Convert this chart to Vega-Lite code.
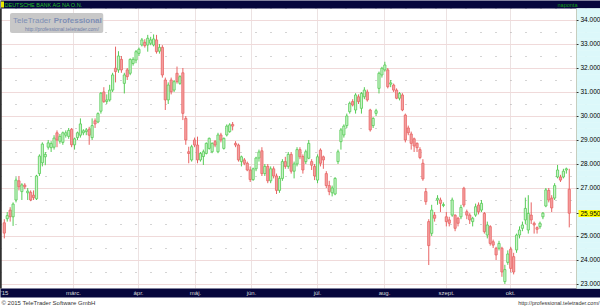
{
"$schema": "https://vega.github.io/schema/vega-lite/v6.json",
"width": 600, "height": 280,
"autosize": "none",
"padding": {"left": 0, "top": 8, "right": 0, "bottom": 18},
"background": "#ffffff",
"config": {"view": {"stroke": null}, "font": "Liberation Sans", "axis": {"titleFontWeight": "normal"}},
"data": {"values": [
{"i":0,"o":25.55,"h":25.7,"l":24.9,"c":25.12},
{"i":1,"o":25.72,"h":26.0,"l":25.6,"c":25.85},
{"i":2,"o":26.08,"h":26.2,"l":25.6,"c":25.8},
{"i":3,"o":25.8,"h":26.4,"l":25.42,"c":26.33},
{"i":4,"o":26.5,"h":27.45,"l":26.4,"c":27.33},
{"i":5,"o":27.3,"h":27.5,"l":26.9,"c":27.05},
{"i":6,"o":26.85,"h":27.2,"l":26.5,"c":27.13},
{"i":7,"o":27.12,"h":27.2,"l":26.95,"c":27.05},
{"i":8,"o":26.8,"h":27.0,"l":26.5,"c":26.87},
{"i":9,"o":26.82,"h":26.9,"l":26.45,"c":26.5},
{"i":10,"o":26.7,"h":26.9,"l":26.5,"c":26.6},
{"i":11,"o":26.55,"h":27.55,"l":26.5,"c":27.5},
{"i":12,"o":27.6,"h":28.4,"l":27.5,"c":28.33},
{"i":13,"o":28.05,"h":28.9,"l":27.9,"c":28.83},
{"i":14,"o":28.3,"h":28.5,"l":27.95,"c":28.4},
{"i":15,"o":28.7,"h":29.0,"l":28.6,"c":28.88},
{"i":16,"o":28.68,"h":28.95,"l":28.5,"c":28.85},
{"i":17,"o":28.7,"h":29.2,"l":28.6,"c":29.08},
{"i":18,"o":29.3,"h":29.4,"l":28.7,"c":29.0},
{"i":19,"o":28.95,"h":29.25,"l":28.85,"c":29.15},
{"i":20,"o":28.9,"h":29.35,"l":28.8,"c":29.3},
{"i":21,"o":29.2,"h":29.4,"l":29.1,"c":29.3},
{"i":22,"o":29.15,"h":29.5,"l":29.05,"c":29.4},
{"i":23,"o":29.45,"h":29.5,"l":28.7,"c":28.8},
{"i":24,"o":28.8,"h":29.1,"l":28.6,"c":29.05},
{"i":25,"o":29.1,"h":29.35,"l":29.0,"c":29.3},
{"i":26,"o":29.2,"h":29.9,"l":29.1,"c":29.67},
{"i":27,"o":29.3,"h":29.45,"l":29.2,"c":29.38},
{"i":28,"o":29.35,"h":29.5,"l":29.2,"c":29.42},
{"i":29,"o":29.45,"h":29.55,"l":28.8,"c":29.2},
{"i":30,"o":29.1,"h":29.9,"l":29.0,"c":29.6},
{"i":31,"o":29.8,"h":29.9,"l":29.5,"c":29.67},
{"i":32,"o":29.75,"h":30.15,"l":29.7,"c":30.1},
{"i":33,"o":30.2,"h":31.0,"l":30.1,"c":30.95},
{"i":34,"o":31.0,"h":31.2,"l":30.55,"c":30.6},
{"i":35,"o":30.6,"h":30.9,"l":30.5,"c":30.67},
{"i":36,"o":30.67,"h":31.3,"l":30.6,"c":31.08},
{"i":37,"o":31.08,"h":31.8,"l":31.0,"c":31.71},
{"i":38,"o":31.99,"h":32.89,"l":31.4,"c":31.85},
{"i":39,"o":31.92,"h":32.7,"l":31.8,"c":32.5},
{"i":40,"o":32.36,"h":32.5,"l":31.8,"c":31.92},
{"i":41,"o":31.36,"h":31.8,"l":30.94,"c":31.71},
{"i":42,"o":31.92,"h":32.0,"l":31.5,"c":31.64},
{"i":43,"o":31.78,"h":32.4,"l":31.7,"c":32.36},
{"i":44,"o":32.19,"h":32.45,"l":32.1,"c":32.36},
{"i":45,"o":32.33,"h":32.75,"l":32.2,"c":32.68},
{"i":46,"o":32.61,"h":32.85,"l":32.5,"c":32.78},
{"i":47,"o":32.96,"h":33.25,"l":32.9,"c":33.17},
{"i":48,"o":33.07,"h":33.2,"l":32.85,"c":32.93},
{"i":49,"o":32.96,"h":33.38,"l":32.68,"c":33.24},
{"i":50,"o":33.03,"h":33.3,"l":32.95,"c":33.17},
{"i":51,"o":32.96,"h":33.4,"l":32.9,"c":33.21},
{"i":52,"o":33.17,"h":33.38,"l":32.6,"c":32.68},
{"i":53,"o":32.7,"h":33.0,"l":32.6,"c":32.86},
{"i":54,"o":32.86,"h":32.95,"l":31.6,"c":31.71},
{"i":55,"o":31.5,"h":31.6,"l":30.25,"c":30.67},
{"i":56,"o":30.67,"h":31.4,"l":30.5,"c":31.29},
{"i":57,"o":31.5,"h":31.6,"l":30.9,"c":31.01},
{"i":58,"o":31.08,"h":31.5,"l":31.0,"c":31.43},
{"i":59,"o":31.78,"h":32.06,"l":31.35,"c":31.43},
{"i":60,"o":31.36,"h":31.7,"l":31.3,"c":31.64},
{"i":61,"o":31.8,"h":32.0,"l":29.83,"c":30.11},
{"i":62,"o":29.9,"h":30.0,"l":28.8,"c":29.0},
{"i":63,"o":28.51,"h":28.72,"l":28.03,"c":28.44},
{"i":64,"o":28.17,"h":28.8,"l":28.1,"c":28.72},
{"i":65,"o":29.0,"h":29.1,"l":28.7,"c":28.79},
{"i":66,"o":28.79,"h":29.14,"l":28.03,"c":28.17},
{"i":67,"o":28.17,"h":28.5,"l":28.1,"c":28.44},
{"i":68,"o":28.31,"h":28.6,"l":27.96,"c":28.51},
{"i":69,"o":28.44,"h":28.9,"l":28.4,"c":28.86},
{"i":70,"o":28.65,"h":29.1,"l":28.6,"c":29.07},
{"i":71,"o":28.51,"h":28.9,"l":28.45,"c":28.86},
{"i":72,"o":28.93,"h":29.0,"l":28.7,"c":28.79},
{"i":73,"o":28.51,"h":29.3,"l":28.45,"c":29.21},
{"i":74,"o":29.21,"h":29.3,"l":28.9,"c":29.0},
{"i":75,"o":28.65,"h":29.1,"l":28.6,"c":29.07},
{"i":76,"o":29.21,"h":29.65,"l":29.15,"c":29.58},
{"i":77,"o":29.35,"h":29.7,"l":29.3,"c":29.63},
{"i":78,"o":29.65,"h":29.75,"l":29.4,"c":29.58},
{"i":79,"o":28.86,"h":28.95,"l":28.7,"c":28.79},
{"i":80,"o":28.79,"h":28.85,"l":28.1,"c":28.17},
{"i":81,"o":28.1,"h":28.35,"l":27.9,"c":28.3},
{"i":82,"o":28.17,"h":28.25,"l":27.95,"c":28.03},
{"i":83,"o":28.03,"h":28.1,"l":27.7,"c":27.75},
{"i":84,"o":27.75,"h":27.9,"l":27.25,"c":27.35},
{"i":85,"o":27.35,"h":27.85,"l":27.3,"c":27.8},
{"i":86,"o":27.8,"h":28.3,"l":27.7,"c":28.25},
{"i":87,"o":28.25,"h":28.6,"l":28.1,"c":28.5},
{"i":88,"o":28.55,"h":28.7,"l":27.5,"c":27.6},
{"i":89,"o":27.6,"h":28.0,"l":27.5,"c":27.9},
{"i":90,"o":27.9,"h":28.0,"l":27.2,"c":27.3},
{"i":91,"o":27.3,"h":27.9,"l":27.2,"c":27.8},
{"i":92,"o":27.8,"h":27.9,"l":27.4,"c":27.5},
{"i":93,"o":27.5,"h":27.6,"l":26.75,"c":26.9},
{"i":94,"o":26.9,"h":27.5,"l":26.8,"c":27.4},
{"i":95,"o":27.4,"h":28.2,"l":27.3,"c":28.1},
{"i":96,"o":28.1,"h":28.3,"l":27.8,"c":27.9},
{"i":97,"o":27.9,"h":28.5,"l":27.8,"c":28.4},
{"i":98,"o":28.4,"h":28.5,"l":27.6,"c":27.7},
{"i":99,"o":27.7,"h":28.1,"l":27.4,"c":28.0},
{"i":100,"o":28.0,"h":28.7,"l":27.9,"c":28.6},
{"i":101,"o":28.6,"h":28.7,"l":28.2,"c":28.3},
{"i":102,"o":28.31,"h":28.4,"l":27.6,"c":27.75},
{"i":103,"o":28.1,"h":28.6,"l":28.0,"c":28.51},
{"i":104,"o":28.24,"h":29.0,"l":28.2,"c":28.86},
{"i":105,"o":28.1,"h":28.2,"l":27.75,"c":27.95},
{"i":106,"o":27.9,"h":28.0,"l":27.33,"c":27.5},
{"i":107,"o":27.33,"h":28.4,"l":27.2,"c":28.3},
{"i":108,"o":28.58,"h":28.65,"l":27.9,"c":28.03},
{"i":109,"o":28.3,"h":28.35,"l":27.8,"c":28.17},
{"i":110,"o":27.6,"h":27.7,"l":27.0,"c":27.1},
{"i":111,"o":27.1,"h":27.3,"l":26.7,"c":26.85},
{"i":112,"o":26.8,"h":27.1,"l":26.65,"c":27.0},
{"i":113,"o":26.75,"h":27.45,"l":26.7,"c":27.4},
{"i":114,"o":28.1,"h":28.6,"l":28.0,"c":28.51},
{"i":115,"o":28.93,"h":29.5,"l":28.6,"c":29.42},
{"i":116,"o":29.21,"h":29.65,"l":29.1,"c":29.58},
{"i":117,"o":29.6,"h":30.1,"l":29.5,"c":30.0},
{"i":118,"o":30.18,"h":30.6,"l":30.1,"c":30.53},
{"i":119,"o":30.6,"h":30.7,"l":30.4,"c":30.46},
{"i":120,"o":30.25,"h":30.95,"l":30.1,"c":30.875},
{"i":121,"o":30.8,"h":30.9,"l":30.5,"c":30.6},
{"i":122,"o":30.32,"h":31.0,"l":30.1,"c":30.94},
{"i":123,"o":30.8,"h":31.2,"l":30.7,"c":31.08},
{"i":124,"o":31.0,"h":31.1,"l":30.6,"c":30.67},
{"i":125,"o":30.25,"h":30.3,"l":29.35,"c":29.42},
{"i":126,"o":29.6,"h":29.95,"l":29.5,"c":29.9},
{"i":127,"o":30.11,"h":30.3,"l":30.0,"c":30.22},
{"i":128,"o":31.15,"h":31.85,"l":30.94,"c":31.78},
{"i":129,"o":31.71,"h":32.05,"l":31.6,"c":31.99},
{"i":130,"o":31.92,"h":32.26,"l":31.85,"c":32.125},
{"i":131,"o":31.92,"h":32.0,"l":31.15,"c":31.22},
{"i":132,"o":31.33,"h":31.5,"l":31.2,"c":31.38},
{"i":133,"o":31.29,"h":31.35,"l":31.0,"c":31.08},
{"i":134,"o":31.08,"h":31.15,"l":30.7,"c":30.74},
{"i":135,"o":30.74,"h":31.0,"l":30.65,"c":30.94},
{"i":136,"o":30.875,"h":30.95,"l":30.2,"c":30.25},
{"i":137,"o":30.04,"h":30.1,"l":28.9,"c":29.0},
{"i":138,"o":29.5,"h":29.6,"l":29.2,"c":29.3},
{"i":139,"o":29.25,"h":29.35,"l":28.6,"c":28.86},
{"i":140,"o":29.05,"h":29.1,"l":28.5,"c":28.75},
{"i":141,"o":28.86,"h":28.9,"l":28.5,"c":28.68},
{"i":142,"o":28.6,"h":28.7,"l":28.2,"c":28.27},
{"i":143,"o":28.03,"h":28.2,"l":27.3,"c":27.38},
{"i":144,"o":26.85,"h":27.0,"l":26.3,"c":26.43},
{"i":145,"o":25.6,"h":25.7,"l":23.79,"c":24.6},
{"i":146,"o":25.11,"h":26.3,"l":25.0,"c":26.08},
{"i":147,"o":25.87,"h":26.0,"l":25.6,"c":25.74},
{"i":148,"o":26.5,"h":26.7,"l":26.3,"c":26.57},
{"i":149,"o":26.5,"h":26.6,"l":26.0,"c":26.36},
{"i":150,"o":26.27,"h":26.4,"l":26.2,"c":26.31},
{"i":151,"o":25.8,"h":26.0,"l":25.4,"c":25.6},
{"i":152,"o":25.67,"h":25.8,"l":25.4,"c":25.53},
{"i":153,"o":25.87,"h":26.6,"l":25.8,"c":26.5},
{"i":154,"o":25.87,"h":25.9,"l":25.2,"c":25.32},
{"i":155,"o":25.74,"h":25.8,"l":25.4,"c":25.53},
{"i":156,"o":25.8,"h":26.3,"l":25.7,"c":26.19},
{"i":157,"o":26.99,"h":27.05,"l":26.2,"c":26.29},
{"i":158,"o":26.01,"h":26.1,"l":25.7,"c":25.87},
{"i":159,"o":25.87,"h":25.95,"l":25.5,"c":25.67},
{"i":160,"o":25.6,"h":25.8,"l":25.4,"c":25.74},
{"i":161,"o":25.87,"h":26.35,"l":25.8,"c":26.22},
{"i":162,"o":26.29,"h":26.4,"l":25.9,"c":26.01},
{"i":163,"o":26.08,"h":26.5,"l":26.0,"c":26.36},
{"i":164,"o":25.94,"h":26.0,"l":25.1,"c":25.18},
{"i":165,"o":25.04,"h":25.6,"l":24.9,"c":25.46},
{"i":166,"o":25.39,"h":25.45,"l":24.6,"c":24.69},
{"i":167,"o":24.76,"h":24.85,"l":24.5,"c":24.62},
{"i":168,"o":24.49,"h":24.55,"l":24.0,"c":24.21},
{"i":169,"o":24.49,"h":24.8,"l":24.4,"c":24.69},
{"i":170,"o":24.49,"h":24.55,"l":23.3,"c":23.5},
{"i":171,"o":23.1,"h":23.8,"l":23.0,"c":23.6},
{"i":172,"o":23.9,"h":24.4,"l":23.8,"c":24.25},
{"i":173,"o":24.45,"h":24.55,"l":23.5,"c":23.65},
{"i":174,"o":24.14,"h":24.3,"l":23.4,"c":23.5},
{"i":175,"o":24.42,"h":25.1,"l":24.3,"c":25.04},
{"i":176,"o":25.04,"h":25.4,"l":24.9,"c":25.25},
{"i":177,"o":25.32,"h":25.6,"l":25.2,"c":25.46},
{"i":178,"o":25.67,"h":26.6,"l":25.5,"c":26.15},
{"i":179,"o":25.25,"h":26.7,"l":25.1,"c":25.94},
{"i":180,"o":25.87,"h":26.4,"l":25.5,"c":25.67},
{"i":181,"o":25.53,"h":25.6,"l":25.1,"c":25.46},
{"i":182,"o":25.35,"h":25.4,"l":25.1,"c":25.28},
{"i":183,"o":25.39,"h":25.6,"l":25.3,"c":25.53},
{"i":184,"o":25.8,"h":26.0,"l":25.7,"c":25.95},
{"i":185,"o":26.25,"h":27.0,"l":26.2,"c":26.92},
{"i":186,"o":26.9,"h":27.0,"l":26.4,"c":26.5},
{"i":187,"o":26.58,"h":26.7,"l":26.0,"c":26.17},
{"i":188,"o":26.58,"h":27.2,"l":26.5,"c":27.1},
{"i":189,"o":27.46,"h":27.96,"l":27.4,"c":27.75},
{"i":190,"o":27.46,"h":27.55,"l":27.25,"c":27.33},
{"i":191,"o":27.46,"h":27.8,"l":27.4,"c":27.7},
{"i":192,"o":27.75,"h":27.85,"l":27.6,"c":27.8},
{"i":193,"o":26.95,"h":27.8,"l":25.36,"c":25.95}
]},
"resolve": {"axis": {"x": "independent", "y": "independent"}},
"layer": [
{
 "data": {"values": [{}]},
 "mark": {"type": "rect", "fill": "#c8c8c8", "cornerRadius": 2},
 "encoding": {
  "x": {"datum": 1.95, "type": "quantitative", "scale": {"domain": [-1.47, 203.5], "nice": false, "zero": false, "padding": 0},
   "axis": {"orient": "top", "offset": 4, "domain": true, "domainColor": "#06063c", "domainWidth": 8, "ticks": false, "labels": false, "grid": false, "title": null}},
  "x2": {"datum": 33.8},
  "y": {"datum": 34.29, "type": "quantitative", "scale": {"domain": [22.8333, 34.5], "nice": false, "zero": false, "padding": 0},
   "axis": {"orient": "left", "values": [23, 24, 25, 26, 27, 28, 29, 30, 31, 32, 33, 34], "grid": true, "gridColor": "#f0dada", "gridWidth": 1, "labels": false, "ticks": false,
    "domain": true, "domainColor": "#303030", "domainWidth": 2.5,
    "title": "http://professional.teletrader.com/", "titleX": 599, "titleY": 294, "titleAngle": 0, "titleAlign": "right", "titleBaseline": "middle", "titleFontSize": 5.5, "titleColor": "#333333"}},
  "y2": {"datum": 33.46}
 }
},
{
 "data": {"values": [{}]},
 "mark": {"type": "text", "text": "TeleTrader", "align": "left", "baseline": "middle", "fontSize": 8, "color": "#7f8fb5"},
 "encoding": {
  "x": {"datum": 2.97, "type": "quantitative", "scale": {"domain": [-1.47, 203.5], "nice": false, "zero": false, "padding": 0},
   "axis": {"orient": "bottom", "offset": 4.5, "domain": true, "domainColor": "#06063c", "domainWidth": 9, "ticks": false, "labels": false, "grid": false,
    "title": "© 2015 TeleTrader Software GmbH", "titleX": 1, "titleY": 9.5, "titleAlign": "left", "titleBaseline": "middle", "titleAngle": 0, "titleFontSize": 6, "titleColor": "#333333"}},
  "y": {"datum": 33.96, "type": "quantitative", "scale": {"domain": [22.8333, 34.5], "nice": false, "zero": false, "padding": 0},
   "axis": {"orient": "left", "values": [23.5, 24.5, 25.5, 26.5, 27.5, 28.5, 29.5, 30.5, 31.5, 32.5, 33.5, 34.5], "grid": true, "gridDash": [1, 14], "gridColor": "#a8a8a8", "labels": false, "ticks": false, "domain": false, "title": null}}
 }
},
{
 "data": {"values": [{}]},
 "mark": {"type": "text", "text": "Professional", "align": "left", "baseline": "middle", "fontSize": 8, "fontWeight": "bold", "color": "#7f8fb5"},
 "encoding": {
  "x": {"datum": 16.9, "type": "quantitative", "scale": {"domain": [-1.47, 203.5], "nice": false, "zero": false, "padding": 0}, "axis": null},
  "y": {"datum": 33.96, "type": "quantitative", "scale": {"domain": [22.8333, 34.5], "nice": false, "zero": false, "padding": 0},
   "axis": {"orient": "right", "offset": -24, "tickCount": 400,
    "values": [34.375,34.125,33.875,33.625,33.375,33.125,32.875,32.625,32.375,32.125,31.875,31.625,31.375,31.125,30.875,30.625,30.375,30.125,29.875,29.625,29.375,29.125,28.875,28.625,28.375,28.125,27.875,27.625,27.375,27.125,26.875,26.625,26.375,26.125,25.875,25.625,25.375,25.125,24.875,24.625,24.375,24.125,23.875,23.625,23.375,23.125,22.95],
    "tickSize": 24, "tickWidth": 6.5, "tickColor": "#dcf8fa", "domain": false, "labels": false, "grid": false,
    "title": "naponta", "titleX": -9, "titleY": -4, "titleAngle": 0, "titleAlign": "center", "titleBaseline": "middle", "titleFontSize": 5.5, "titleColor": "#10a010"}}
 }
},
{
 "data": {"values": [{}]},
 "mark": {"type": "text", "text": "http://professional.teletrader.com/", "align": "left", "baseline": "middle", "fontSize": 5, "color": "#7080a8"},
 "encoding": {
  "x": {"datum": 7.07, "type": "quantitative", "scale": {"domain": [-1.47, 203.5], "nice": false, "zero": false, "padding": 0},
   "axis": {"orient": "top", "offset": 1, "values": [-0.94], "tickSize": 6, "tickWidth": 3, "tickColor": "#e8e800", "labels": false, "domain": false, "grid": false, "title": null}},
  "y": {"datum": 33.625, "type": "quantitative", "scale": {"domain": [22.8333, 34.5], "nice": false, "zero": false, "padding": 0},
   "axis": {"orient": "right", "offset": -22, "values": [25.95], "tickSize": 22, "tickWidth": 7, "tickColor": "#ffff00", "labels": false, "domain": false, "grid": false, "title": null}}
 }
},
{
 "mark": {"type": "rule", "strokeWidth": 1},
 "encoding": {
  "x": {"field": "i", "type": "quantitative", "scale": {"domain": [-1.47, 203.5], "nice": false, "zero": false, "padding": 0},
   "axis": {"orient": "bottom", "offset": 4.5, "values": [-1.47, 23.47, 45.68, 65.15, 84.28, 106.83, 129.72, 150.9, 172.77],
    "labelExpr": "datum.value < 0 ? \"'15\" : datum.value < 30 ? 'márc.' : datum.value < 55 ? 'ápr.' : datum.value < 75 ? 'máj.' : datum.value < 95 ? 'jún.' : datum.value < 115 ? 'júl.' : datum.value < 140 ? 'aug.' : datum.value < 160 ? 'szept.' : 'okt.'",
    "labelColor": "#d8d8d8", "labelFontSize": 6, "labelBaseline": "middle", "labelPadding": 0, "labelFlush": true, "labelOverlap": false,
    "ticks": false, "domain": false,
    "grid": true, "gridColor": "#ece2e2", "gridWidth": 1,
    "title": "DEUTSCHE BANK AG NA O.N.", "titleX": 4, "titleY": -288.5, "titleAlign": "left", "titleBaseline": "middle", "titleAngle": 0, "titleFontSize": 5.5, "titleColor": "#22c022"}},
  "y": {"field": "l", "type": "quantitative", "scale": {"domain": [22.8333, 34.5], "nice": false, "zero": false, "padding": 0},
   "axis": {"orient": "right", "offset": -24, "values": [23, 24, 25, 25.95, 27, 28, 29, 30, 31, 32, 33, 34], "format": ".3f", "labelFontSize": 6.5, "labelColor": "#000000", "labelPadding": 2, "labelOverlap": false, "labelBound": false,
    "tickSize": 2, "tickColor": "#333333", "domain": true, "domainColor": "#a0a080", "domainDash": [1, 1], "grid": false, "title": null}},
  "y2": {"field": "h"},
  "color": {"condition": {"test": "datum.c >= datum.o", "value": "#55cc55"}, "value": "#e86464"}
 }
},
{
 "mark": {"type": "bar", "size": 2.2, "strokeWidth": 0.8},
 "encoding": {
  "x": {"field": "i", "type": "quantitative", "scale": {"domain": [-1.47, 203.5], "nice": false, "zero": false, "padding": 0}, "axis": null},
  "y": {"field": "o", "type": "quantitative", "scale": {"domain": [22.8333, 34.5], "nice": false, "zero": false, "padding": 0}, "axis": null},
  "y2": {"field": "c"},
  "fill": {"condition": {"test": "datum.c >= datum.o", "value": "#c8f2c8"}, "value": "#f4a0a0"},
  "stroke": {"condition": {"test": "datum.c >= datum.o", "value": "#55cc55"}, "value": "#e86464"}
 }
}
]
}
